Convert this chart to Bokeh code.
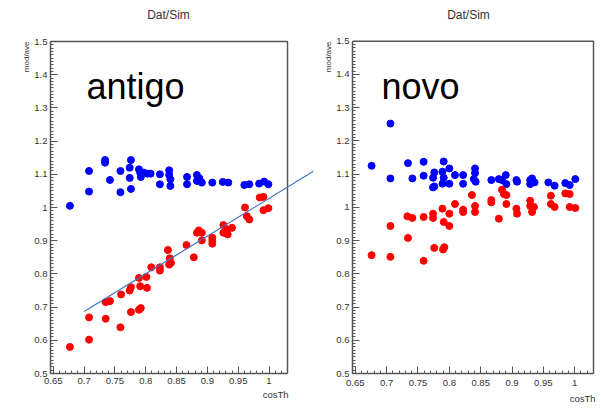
import math
from bokeh.plotting import figure
from bokeh.layouts import row
from bokeh.models import (Label, Title, SingleIntervalTicker, CustomJSTickFormatter,
                          ColumnDataSource)
from bokeh.embed import file_html
from bokeh.resources import INLINE

# ---------------- data ----------------
old_blue_x = [0.677, 0.708, 0.708, 0.734, 0.734, 0.742, 0.759, 0.759, 0.774, 0.774,
              0.776, 0.776, 0.789, 0.791, 0.792, 0.797, 0.803, 0.808, 0.823, 0.823,
              0.838, 0.838, 0.840, 0.840, 0.867, 0.867, 0.883, 0.883, 0.887, 0.891,
              0.908, 0.925, 0.934, 0.960, 0.968, 0.984, 0.992, 0.999]
old_blue_y = [1.005, 1.110, 1.048, 1.143, 1.135, 1.083, 1.110, 1.046, 1.120, 1.089,
              1.143, 1.056, 1.115, 1.105, 1.092, 1.105, 1.102, 1.102, 1.100, 1.070,
              1.112, 1.098, 1.085, 1.065, 1.092, 1.070, 1.098, 1.080, 1.088, 1.075,
              1.075, 1.077, 1.075, 1.068, 1.070, 1.072, 1.078, 1.070]
old_red_x = [0.985, 0.991, 0.999, 0.991, 0.961, 0.964, 0.968, 0.926, 0.932, 0.940,
             0.886, 0.891, 0.908, 0.883, 0.891, 0.908, 0.908, 0.926, 0.933, 0.866,
             0.878, 0.836, 0.839, 0.838, 0.841, 0.809, 0.823, 0.823, 0.789, 0.801,
             0.791, 0.802, 0.776, 0.774, 0.760, 0.735, 0.742, 0.776, 0.789, 0.792,
             0.708, 0.735, 0.759, 0.708, 0.677]
old_red_y = [1.030, 1.032, 0.998, 0.992, 1.000, 0.974, 0.964, 0.947, 0.934, 0.939,
             0.931, 0.924, 0.909, 0.924, 0.901, 0.901, 0.891, 0.924, 0.919, 0.887,
             0.850, 0.872, 0.847, 0.828, 0.833, 0.820, 0.820, 0.810, 0.788, 0.791,
             0.763, 0.758, 0.760, 0.750, 0.738, 0.715, 0.718, 0.685, 0.692, 0.697,
             0.669, 0.665, 0.639, 0.602, 0.580]

# trend line drawn on the "antigo" panel
trend_x = [0.700, 1.072]
trend_y = [0.687, 1.109]

new_blue_x = [0.676, 0.706, 0.706, 0.734, 0.741, 0.759, 0.759, 0.774, 0.776, 0.774,
              0.776, 0.789, 0.791, 0.791, 0.789, 0.800, 0.800, 0.809, 0.822, 0.822,
              0.841, 0.841, 0.839, 0.842, 0.867, 0.879, 0.884, 0.890, 0.891, 0.907,
              0.908, 0.929, 0.932, 0.929, 0.936, 0.958, 0.968, 0.985, 0.992, 1.001]
new_blue_y = [1.125, 1.252, 1.087, 1.133, 1.087, 1.137, 1.095, 1.089, 1.105, 1.060,
              1.063, 1.107, 1.138, 1.089, 1.071, 1.117, 1.071, 1.097, 1.097, 1.071,
              1.117, 1.103, 1.085, 1.077, 1.082, 1.085, 1.082, 1.097, 1.070, 1.082,
              1.077, 1.082, 1.087, 1.070, 1.075, 1.075, 1.065, 1.073, 1.067, 1.085]
new_red_x = [0.706, 0.733, 0.741, 0.759, 0.774, 0.774, 0.789, 0.800, 0.791, 0.800,
             0.809, 0.822, 0.822, 0.836, 0.841, 0.841, 0.867, 0.867, 0.879, 0.884,
             0.887, 0.891, 0.891, 0.907, 0.908, 0.929, 0.929, 0.932, 0.935, 0.962,
             0.962, 0.968, 0.985, 0.992, 0.992, 1.001, 0.734, 0.676, 0.706, 0.759,
             0.776, 0.790, 0.792]
new_red_y = [0.944, 0.973, 0.968, 0.971, 0.981, 0.968, 0.996, 0.981, 0.956, 0.944,
             1.010, 0.993, 0.986, 1.037, 1.004, 0.986, 1.022, 1.015, 0.966, 1.053,
             1.040, 1.037, 1.010, 0.996, 0.981, 1.020, 1.004, 0.986, 1.001, 1.035,
             1.010, 1.001, 1.042, 1.040, 1.001, 0.998, 0.908, 0.856, 0.851, 0.839,
             0.878, 0.873, 0.880]

x_tick_interval = 0.05
y_tick_interval = 0.1
panel_title = "Dat/Sim"
x_title = "cosTh"
y_title = "mod/ave"

# ---------------- layout ----------------
X0, X1 = 0.6455, 1.030      # axis extent
Y0, Y1 = 0.5, 1.5
H = 409
FONT = "Liberation Sans"
FRAME_COLOR = "#555555"
TEXT_COLOR = "#333333"


def make_panel(offset, width, ax_left, ax_right, ax_top, ax_bottom,
               big_text, big_x, big_base, title_cx, xlab_right,
               xlabel_standoff, xtitle_standoff,
               blue_x, blue_y, red_x, red_y):
    """ax_* : pixel position (in the whole picture) of the axis box.
    The plotting frame reaches the top of the picture and the right side of
    the figure so that texts and the trend line can be drawn inside it."""
    fig_right = offset + width
    kx = (ax_right - ax_left) / (X1 - X0)
    ky = (ax_bottom - ax_top) / (Y1 - Y0)
    x_end = X0 + (fig_right - ax_left) / kx
    y_end = Y1 + ax_top / ky
    p = figure(width=width, height=H, x_range=(X0, x_end), y_range=(Y0, y_end),
               output_backend="svg", toolbar_location=None,
               min_border_left=ax_left - offset, min_border_right=0,
               min_border_top=0, min_border_bottom=H - ax_bottom)
    p.grid.visible = False
    p.background_fill_color = "white"
    p.border_fill_color = "white"
    p.outline_line_color = None

    fmt = CustomJSTickFormatter(code="return String(Math.round(tick*100)/100);")
    p.xaxis.ticker = SingleIntervalTicker(interval=x_tick_interval, num_minor_ticks=5)
    p.yaxis.ticker = SingleIntervalTicker(interval=y_tick_interval, num_minor_ticks=10)
    p.xaxis.bounds = (X0, X1)
    p.yaxis.bounds = (Y0, Y1)
    for ax in (p.xaxis[0], p.yaxis[0]):
        ax.formatter = fmt
        ax.axis_line_color = FRAME_COLOR
        ax.axis_line_width = 1.5
        ax.major_tick_in = 7
        ax.major_tick_out = 0
        ax.minor_tick_in = 3
        ax.minor_tick_out = 0
        ax.major_tick_line_color = FRAME_COLOR
        ax.minor_tick_line_color = FRAME_COLOR
        ax.major_label_text_font = FONT
        ax.major_label_text_font_size = "9.5px"
        ax.major_label_text_color = TEXT_COLOR
    p.xaxis.major_label_standoff = xlabel_standoff
    p.yaxis.major_label_standoff = 3

    # top and right sides of the axis box
    p.line([X0, X1, X1], [Y1, Y1, Y0], line_color=FRAME_COLOR, line_width=1.5)

    blue = ColumnDataSource(dict(x=blue_x, y=blue_y))
    red = ColumnDataSource(dict(x=red_x, y=red_y))
    p.scatter("x", "y", source=blue, size=7, marker="circle",
              fill_color="#0000ff", line_color="#0000ff")
    p.scatter("x", "y", source=red, size=7, marker="circle",
              fill_color="#ff0000", line_color="#ff0000")

    def lab(x, y, text, **kw):
        p.add_layout(Label(x=x - offset, y=y, x_units="canvas", y_units="canvas",
                           text=text, text_font=FONT, **kw))

    lab(title_cx, 14, panel_title, text_align="center", text_baseline="middle",
        text_font_size="12px", text_color=TEXT_COLOR)
    lab(big_x, big_base, big_text, text_align="left", text_baseline="alphabetic",
        text_font_size="36px", text_color="black")

    p.add_layout(Title(text=y_title, align="right", offset=ax_top, standoff=1,
                       vertical_align="bottom", text_font=FONT, text_font_size="8px",
                       text_font_style="normal", text_color=TEXT_COLOR), "left")
    p.add_layout(Title(text=x_title, align="right", offset=fig_right - xlab_right,
                       standoff=xtitle_standoff, vertical_align="top", text_font=FONT,
                       text_font_size="9.5px", text_font_style="normal",
                       text_color=TEXT_COLOR), "below")
    return p


left = make_panel(0, 315, 50, 287, 41, 373, "antigo", 86, 86, 168, 288, 4, 4,
                  old_blue_x, old_blue_y, old_red_x, old_red_y)
left.line(trend_x, trend_y, line_color="#4472c4", line_width=1.2)

right = make_panel(315, 286, 352, 593, 41, 376, "novo", 381, 86, 468, 595, 6, 8,
                   new_blue_x, new_blue_y, new_red_x, new_red_y)

layout = row(left, right, spacing=0)
open("out.html", "w").write(file_html(layout, INLINE))
